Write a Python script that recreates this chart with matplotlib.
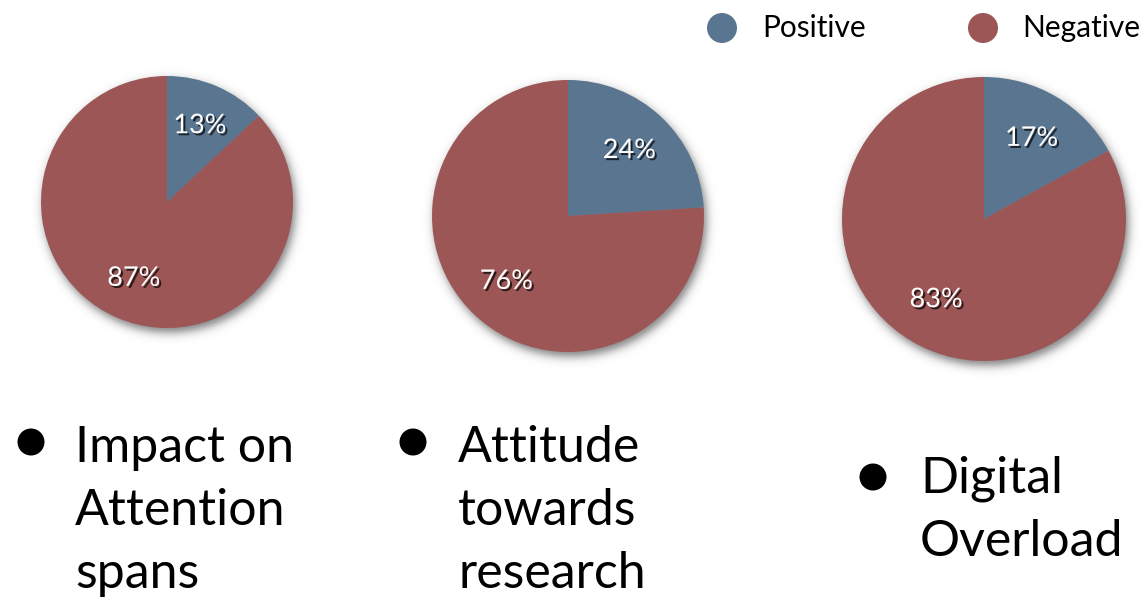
import numpy as np
import matplotlib
matplotlib.use("Agg")
import matplotlib.pyplot as plt
from matplotlib.patches import Circle
import matplotlib.patheffects as pe

# Survey results: share of positive vs negative responses per topic
categories = ["Impact on\nAttention\nspans", "Attitude\ntowards\nresearch", "Digital\nOverload"]
positive = [13, 24, 17]
negative = [87, 76, 83]
series_labels = ["Positive", "Negative"]

W, H = 1148, 601
BLUE = "#5a7590"
RED = "#9c5656"
FONT = ["Lato", "DejaVu Sans"]

fig = plt.figure(figsize=(W / 100, H / 100), dpi=100)
fig.patch.set_facecolor("white")
ax = fig.add_axes([0, 0, 1, 1])


def py(y):
    """Convert a top-down pixel row into axis y."""
    return H - y


# pie placement (center x, center y from top, radius) in pixels
layout = [(167, 202, 126), (568, 216, 136), (984, 219, 142)]

# soft drop shadow under each pie
yy, xx = np.mgrid[0:H, 0:W]
shadow = np.zeros((H, W))
for cx, cy, r in layout:
    d = np.hypot(xx - (cx + 2), yy - (cy + 4))
    shadow = np.maximum(shadow, 1.0 / (1.0 + np.exp((d - r) / 2.8)))
rgba = np.zeros((H, W, 4))
rgba[..., 3] = shadow * 0.5
ax.imshow(rgba, extent=(0, W, 0, H), origin="upper", zorder=1, interpolation="bilinear")

label_fx = [pe.withSimplePatchShadow(offset=(1.5, -1.5), shadow_rgbFace="black", alpha=0.7)]

for (cx, cy, r), p, n in zip(layout, positive, negative):
    wedges, texts, autotexts = ax.pie(
        [p, n],
        colors=[BLUE, RED],
        startangle=90,
        counterclock=False,
        center=(cx, py(cy)),
        radius=r,
        autopct=lambda v: f"{v:.0f}%",
        pctdistance=0.66,
        wedgeprops=dict(linewidth=0, zorder=2),
        textprops=dict(color="white", fontsize=19.5, family=FONT, zorder=4),
    )
    for t in autotexts:
        t.set_path_effects(label_fx)

# legend drawn as dots with labels
legend_items = [(722, 762), (983, 1022)]
for (dx, tx), name, col in zip(legend_items, series_labels, [BLUE, RED]):
    ax.add_patch(Circle((dx, py(28)), 15, facecolor=col, edgecolor="none", zorder=3))
    ax.text(tx, py(28), name, fontsize=21.5, family=FONT, color="black",
            va="center", ha="left", zorder=3)

# bullet captions under the pies
captions = [(31, 442, 75, 462), (413, 442, 458, 462), (873, 477, 920, 493)]
line_gap = 63
for (bx, by, tx, base), text in zip(captions, categories):
    ax.add_patch(Circle((bx, py(by)), 13.5, facecolor="black", edgecolor="none", zorder=3))
    for i, line in enumerate(text.split("\n")):
        ax.text(tx, py(base + i * line_gap), line, fontsize=36, family=FONT,
                color="black", va="baseline", ha="left", zorder=3)

ax.set_xlim(0, W)
ax.set_ylim(0, H)
ax.set_aspect("equal")
ax.axis("off")

fig.savefig("out.png", dpi=100, facecolor="white")
